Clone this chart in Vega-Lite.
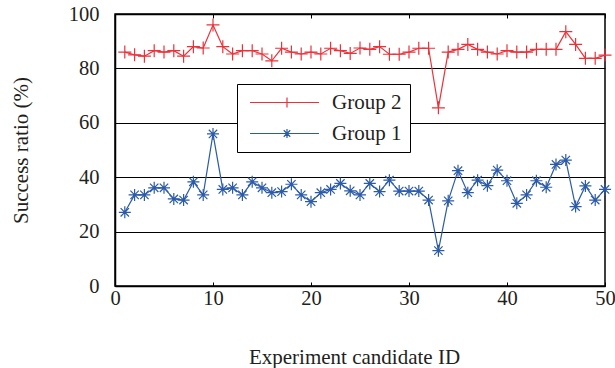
{
  "$schema": "https://vega.github.io/schema/vega-lite/v6.json",
  "width": 490,
  "height": 272,
  "autosize": "none",
  "padding": {"left": 115, "top": 14, "right": 10, "bottom": 82},
  "background": "white",
  "config": {
    "view": {"stroke": "#000000", "strokeWidth": 1.5},
    "font": "Liberation Serif",
    "axis": {
      "labelFont": "Liberation Serif",
      "titleFont": "Liberation Serif",
      "labelFontSize": 20.5,
      "titleFontSize": 21,
      "labelColor": "#231f20",
      "titleColor": "#231f20",
      "titleFontWeight": "normal",
      "domainColor": "#000000",
      "domainWidth": 1.5,
      "tickColor": "#000000",
      "tickWidth": 1,
      "gridColor": "#000000",
      "gridWidth": 1,
      "gridOpacity": 1
    }
  },
  "data": {
    "values": [
      {"id":1,"group":"Group 2","value":86},{"id":2,"group":"Group 2","value":85},{"id":3,"group":"Group 2","value":84.5},{"id":4,"group":"Group 2","value":86.5},{"id":5,"group":"Group 2","value":86},
      {"id":6,"group":"Group 2","value":86.5},{"id":7,"group":"Group 2","value":84.5},{"id":8,"group":"Group 2","value":88},{"id":9,"group":"Group 2","value":87.5},{"id":10,"group":"Group 2","value":96},
      {"id":11,"group":"Group 2","value":88},{"id":12,"group":"Group 2","value":85.3},{"id":13,"group":"Group 2","value":86.5},{"id":14,"group":"Group 2","value":86.5},{"id":15,"group":"Group 2","value":85.3},
      {"id":16,"group":"Group 2","value":82.8},{"id":17,"group":"Group 2","value":87.4},{"id":18,"group":"Group 2","value":86},{"id":19,"group":"Group 2","value":85.3},{"id":20,"group":"Group 2","value":86},
      {"id":21,"group":"Group 2","value":85.3},{"id":22,"group":"Group 2","value":87.4},{"id":23,"group":"Group 2","value":86.5},{"id":24,"group":"Group 2","value":85.5},{"id":25,"group":"Group 2","value":87.5},
      {"id":26,"group":"Group 2","value":87},{"id":27,"group":"Group 2","value":88},{"id":28,"group":"Group 2","value":85.2},{"id":29,"group":"Group 2","value":85.2},{"id":30,"group":"Group 2","value":86},
      {"id":31,"group":"Group 2","value":87.4},{"id":32,"group":"Group 2","value":87.4},{"id":33,"group":"Group 2","value":65.5},{"id":34,"group":"Group 2","value":86},{"id":35,"group":"Group 2","value":87},
      {"id":36,"group":"Group 2","value":88.8},{"id":37,"group":"Group 2","value":87},{"id":38,"group":"Group 2","value":86},{"id":39,"group":"Group 2","value":85.3},{"id":40,"group":"Group 2","value":86.5},
      {"id":41,"group":"Group 2","value":86},{"id":42,"group":"Group 2","value":86},{"id":43,"group":"Group 2","value":87},{"id":44,"group":"Group 2","value":87},{"id":45,"group":"Group 2","value":87},
      {"id":46,"group":"Group 2","value":93.5},{"id":47,"group":"Group 2","value":88.8},{"id":48,"group":"Group 2","value":83.7},{"id":49,"group":"Group 2","value":83.7},{"id":50,"group":"Group 2","value":84.9},
      {"id":1,"group":"Group 1","value":27.1},{"id":2,"group":"Group 1","value":33.5},{"id":3,"group":"Group 1","value":33.5},{"id":4,"group":"Group 1","value":36.1},{"id":5,"group":"Group 1","value":36.1},
      {"id":6,"group":"Group 1","value":32},{"id":7,"group":"Group 1","value":31.6},{"id":8,"group":"Group 1","value":38.3},{"id":9,"group":"Group 1","value":33.5},{"id":10,"group":"Group 1","value":55.9},
      {"id":11,"group":"Group 1","value":35.5},{"id":12,"group":"Group 1","value":36.1},{"id":13,"group":"Group 1","value":33.5},{"id":14,"group":"Group 1","value":38.3},{"id":15,"group":"Group 1","value":36.1},
      {"id":16,"group":"Group 1","value":34.3},{"id":17,"group":"Group 1","value":34.7},{"id":18,"group":"Group 1","value":37.4},{"id":19,"group":"Group 1","value":33.5},{"id":20,"group":"Group 1","value":31},
      {"id":21,"group":"Group 1","value":34.3},{"id":22,"group":"Group 1","value":35.5},{"id":23,"group":"Group 1","value":37.7},{"id":24,"group":"Group 1","value":35},{"id":25,"group":"Group 1","value":33.5},
      {"id":26,"group":"Group 1","value":37.7},{"id":27,"group":"Group 1","value":34.7},{"id":28,"group":"Group 1","value":38.9},{"id":29,"group":"Group 1","value":34.9},{"id":30,"group":"Group 1","value":34.9},
      {"id":31,"group":"Group 1","value":34.9},{"id":32,"group":"Group 1","value":31.6},{"id":33,"group":"Group 1","value":13},{"id":34,"group":"Group 1","value":31.3},{"id":35,"group":"Group 1","value":42.4},
      {"id":36,"group":"Group 1","value":34.3},{"id":37,"group":"Group 1","value":38.9},{"id":38,"group":"Group 1","value":36.9},{"id":39,"group":"Group 1","value":42.6},{"id":40,"group":"Group 1","value":38.7},
      {"id":41,"group":"Group 1","value":30.4},{"id":42,"group":"Group 1","value":33.5},{"id":43,"group":"Group 1","value":38.7},{"id":44,"group":"Group 1","value":36.3},{"id":45,"group":"Group 1","value":44.7},
      {"id":46,"group":"Group 1","value":46.3},{"id":47,"group":"Group 1","value":29.2},{"id":48,"group":"Group 1","value":36.8},{"id":49,"group":"Group 1","value":31.6},{"id":50,"group":"Group 1","value":35.5}
    ]
  },
  "layer": [
    {
      "mark": {"type": "point", "filled": false, "strokeWidth": 1.2, "opacity": 0, "size": 100},
      "encoding": {
        "x": {
          "field": "id", "type": "quantitative",
          "scale": {"domain": [0, 50], "nice": false, "padding": 0},
          "axis": {
            "orient": "bottom", "values": [0, 10, 20, 30, 40, 50], "grid": false,
            "tickSize": -4, "labelPadding": 6, "labelBaseline": "top", "labelFlush": false,
            "title": "Experiment candidate ID", "titleX": 239, "titleY": 77,
            "titleBaseline": "alphabetic", "titleAlign": "center"
          }
        },
        "y": {
          "field": "value", "type": "quantitative",
          "scale": {"domain": [0, 100], "nice": false, "padding": 0},
          "axis": {
            "values": [0, 20, 40, 60, 80, 100], "grid": true, "ticks": false,
            "labelPadding": 16, "title": "Success ratio (%)",
            "titleAngle": -90, "titleX": -94, "titleY": 136,
            "titleAlign": "center", "titleBaseline": "middle"
          }
        },
        "color": {
          "field": "group", "type": "nominal",
          "scale": {"domain": ["Group 2", "Group 1"], "range": ["#ee3139", "#2c5ba8"]},
          "legend": {
            "orient": "none", "legendX": 122, "legendY": 70,
            "title": null,
            "strokeColor": "#000000", "fillColor": "#ffffff",
            "padding": 8, "rowPadding": 9,
            "labelFont": "Liberation Serif", "labelFontSize": 21, "labelColor": "#231f20",
            "labelOffset": 66, "symbolSize": 100, "symbolStrokeWidth": 1.2, "symbolOpacity": 1,
            "labelLimit": 200
          }
        },
        "shape": {
          "field": "group", "type": "nominal",
          "scale": {"domain": ["Group 2", "Group 1"], "range": ["M-1.1,0L12.7,0M6.3,-1L6.3,1M5.3,0L7.3,0", "M-1.1,0L12.7,0M6.3,-0.9L6.3,0.9M5.65,-0.65L6.95,0.65M5.65,0.65L6.95,-0.65"]},
          "legend": {
            "orient": "none", "legendX": 122, "legendY": 70,
            "title": null,
            "strokeColor": "#000000", "fillColor": "#ffffff",
            "padding": 8, "rowPadding": 9,
            "labelFont": "Liberation Serif", "labelFontSize": 21, "labelColor": "#231f20",
            "labelOffset": 66, "symbolSize": 100, "symbolStrokeWidth": 1.2, "symbolOpacity": 1,
            "labelLimit": 200
          }
        }
      }
    },
    {
      "mark": {"type": "line", "strokeWidth": 1.2},
      "encoding": {
        "x": {
          "field": "id", "type": "quantitative",
          "axis": {
            "orient": "top", "values": [0, 10, 20, 30, 40, 50], "grid": false,
            "tickSize": -4, "labels": false, "title": null
          }
        },
        "y": {"field": "value", "type": "quantitative"},
        "color": {"field": "group", "type": "nominal", "legend": null}
      }
    },
    {
      "transform": [{"filter": "datum.group === 'Group 2'"}],
      "mark": {"type": "point", "filled": false, "strokeWidth": 1.2, "opacity": 1, "shape": "M-1,0L1,0M0,-1L0,1", "size": 169},
      "encoding": {
        "x": {"field": "id", "type": "quantitative", "axis": null},
        "y": {"field": "value", "type": "quantitative"},
        "color": {"field": "group", "type": "nominal", "legend": null}
      }
    },
    {
      "transform": [{"filter": "datum.group === 'Group 1'"}],
      "mark": {"type": "point", "filled": false, "strokeWidth": 1.2, "opacity": 1, "shape": "M-1,0L1,0M0,-1L0,1M-0.7,-0.7L0.7,0.7M-0.7,0.7L0.7,-0.7", "size": 144},
      "encoding": {
        "x": {"field": "id", "type": "quantitative", "axis": null},
        "y": {"field": "value", "type": "quantitative"},
        "color": {"field": "group", "type": "nominal", "legend": null}
      }
    }
  ],
  "resolve": {"axis": {"x": "independent"}}
}
